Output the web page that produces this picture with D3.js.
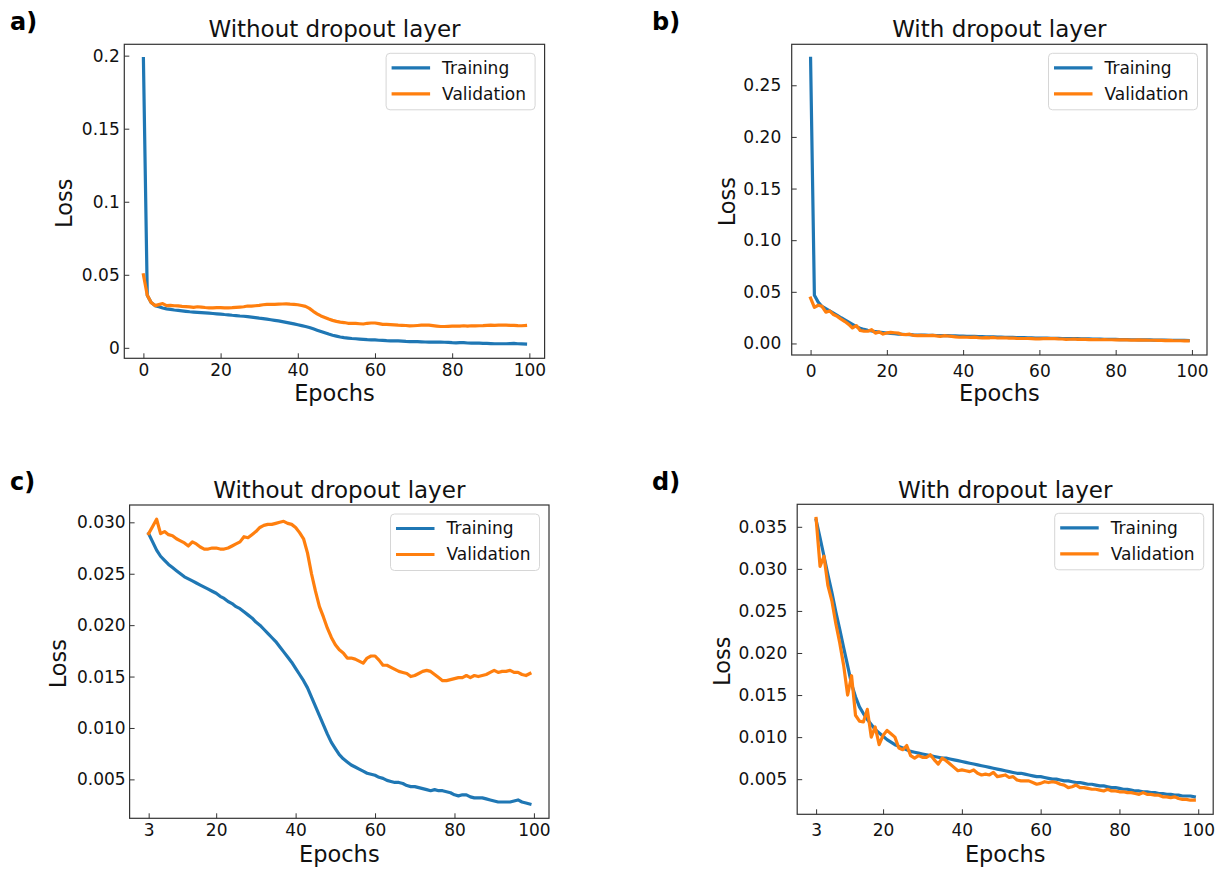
<!DOCTYPE html>
<html><head><meta charset="utf-8">
<script src="https://cdn.jsdelivr.net/npm/d3@7"></script>
<style>
body{margin:0;background:#fff;}
svg text{font-family:"DejaVu Sans",sans-serif;}
</style>
</head><body>
<svg id="chart" width="1220" height="870"></svg>
<script>
// ---------- data (epochs 0..99) ----------
const epochs = d3.range(0, 100);

const trainNoDropout = [0.198,0.036,0.031,
.0289,.0281,.0273,.0267,.0263,.0259,.0256,.0253,.0250,.0247,
.0245,.0243,.0241,.0239,.0237,.0235,.0233,.0231,.0228,.0226,
.0223,.0221,.0218,.0216,.0213,.0210,.0207,.0203,.0200,.0196,
.0192,.0188,.0184,.0179,.0174,.0169,.0164,.0158,.0152,.0146,
.0139,.0130,.0121,.0112,.0103,.0094,.0086,.0080,.0074,.0070,
.0067,.0064,.0062,.0060,.0058,.0056,.0055,.0054,.0052,.0051,
.0049,.0048,.0047,.0047,.0046,.0044,.0043,.0043,.0042,.0041,
.0040,.0039,.0040,.0039,.0039,.0038,.0037,.0035,.0034,.0035,
.0035,.0033,.0032,.0032,.0032,.0031,.0030,.0029,.0028,.0028,
.0028,.0028,.0029,.0030,.0028,.0027,.0026];

const valNoDropout = [0.050,0.036,0.031,
.0289,.0296,.0303,.0289,.0291,.0288,.0287,.0284,.0282,.0280,
.0277,.0281,.0279,.0276,.0274,.0274,.0275,.0275,.0274,.0274,
.0275,.0277,.0279,.0281,.0286,.0285,.0288,.0291,.0295,.0297,
.0298,.0298,.0299,.0300,.0301,.0299,.0298,.0295,.0290,.0284,
.0270,.0250,.0233,.0218,.0208,.0197,.0188,.0181,.0176,.0173,
.0168,.0168,.0167,.0165,.0163,.0168,.0170,.0170,.0166,.0161,
.0161,.0159,.0157,.0155,.0154,.0153,.0150,.0151,.0153,.0155,
.0156,.0155,.0152,.0149,.0146,.0146,.0147,.0148,.0149,.0149,
.0151,.0149,.0151,.0150,.0151,.0152,.0154,.0156,.0154,.0155,
.0155,.0156,.0154,.0154,.0152,.0151,.0153];

const trainDropout = [0.276,0.0466,0.040,
.0358,.0337,.0315,.0293,.0272,.0249,.0228,.0206,.0185,.0163,
.0148,.0136,.0128,.0121,.0115,.0109,.0105,.0101,.0097,.0094,
.0091,.0089,.0087,.0085,.0083,.0082,.0081,.0080,.0079,.0078,
.0077,.0076,.0075,.0075,.0074,.0073,.0072,.0071,.0070,.0069,
.0068,.0067,.0066,.0065,.0064,.0063,.0062,.0061,.0060,.0059,
.0058,.0057,.0057,.0056,.0055,.0054,.0053,.0053,.0052,.0051,
.0050,.0050,.0049,.0048,.0048,.0047,.0046,.0046,.0045,.0044,
.0044,.0043,.0042,.0042,.0041,.0040,.0040,.0039,.0038,.0038,
.0037,.0036,.0036,.0035,.0035,.0034,.0034,.0033,.0033,.0032,
.0032,.0031,.0031,.0030,.0030,.0030,.0029];

const valDropout = [0.044,0.035,0.037,
.0360,.0303,.0315,.0280,.0262,.0235,.0212,.0185,.0150,.0173,
.0126,.0119,.0118,.0133,.0100,.0112,.0091,.0102,.0108,.0104,
.0100,.0087,.0085,.0090,.0078,.0075,.0078,.0076,.0076,.0079,
.0073,.0068,.0075,.0072,.0068,.0064,.0060,.0061,.0060,.0059,
.0061,.0057,.0055,.0056,.0055,.0058,.0053,.0054,.0055,.0052,
.0053,.0049,.0048,.0048,.0048,.0046,.0044,.0045,.0047,.0046,
.0047,.0046,.0044,.0043,.0040,.0041,.0043,.0040,.0040,.0039,
.0038,.0038,.0037,.0036,.0038,.0036,.0036,.0035,.0035,.0034,
.0034,.0033,.0032,.0034,.0032,.0032,.0031,.0031,.0029,.0029,
.0028,.0029,.0027,.0026,.0026,.0025,.0025];

const seriesNames = ["Training", "Validation"];
const seriesColors = ["#1f77b4", "#ff7f0e"];

const xTicksFull = [0, 20, 40, 60, 80, 100];
const xTicksZoom = [3, 20, 40, 60, 80, 100];
const yTicksA = [0, 0.05, 0.1, 0.15, 0.2];
const yLabelsA = ["0", "0.05", "0.1", "0.15", "0.2"];
const yTicksB = [0, 0.05, 0.10, 0.15, 0.20, 0.25];
const yLabelsB = ["0.00", "0.05", "0.10", "0.15", "0.20", "0.25"];
const yTicksC = [0.005, 0.010, 0.015, 0.020, 0.025, 0.030];
const yLabelsC = ["0.005", "0.010", "0.015", "0.020", "0.025", "0.030"];
const yTicksD = [0.005, 0.010, 0.015, 0.020, 0.025, 0.030, 0.035];
const yLabelsD = ["0.005", "0.010", "0.015", "0.020", "0.025", "0.030", "0.035"];

// ---------- layout ----------
const panels = [
  {letter:"a)", lx:10, ly:30, title:"Without dropout layer", titleY:37, xlabY:401, lossX:64.3,
   f:{x0:124.3,x1:544.6,y0:44.3,y1:358.3}, start:0, train:trainNoDropout, val:valNoDropout,
   xTicks:xTicksFull, yTicks:yTicksA, yLabels:yLabelsA, xPad:6, yPad:4.6},
  {letter:"b)", lx:652, ly:30, title:"With dropout layer", titleY:37, xlabY:401, lossX:726.7,
   f:{x0:791.7,x1:1207,y0:44.3,y1:355}, start:0, train:trainDropout, val:valDropout,
   xTicks:xTicksFull, yTicks:yTicksB, yLabels:yLabelsB, xPad:9.5, yPad:10.5},
  {letter:"c)", lx:10, ly:490, title:"Without dropout layer", titleY:498, xlabY:861.5, lossX:57.9,
   f:{x0:129.6,x1:549,y0:505,y1:818.3}, start:3, train:trainNoDropout, val:valNoDropout,
   xTicks:xTicksZoom, yTicks:yTicksC, yLabels:yLabelsC, xPad:6, yPad:4},
  {letter:"d)", lx:652, ly:490, title:"With dropout layer", titleY:497.5, xlabY:861.5, lossX:722.6,
   f:{x0:797.2,x1:1213.2,y0:504.3,y1:814.3}, start:3, train:trainDropout, val:valDropout,
   xTicks:xTicksZoom, yTicks:yTicksD, yLabels:yLabelsD, xPad:9.5, yPad:10}
];

const svg = d3.select("#chart");
svg.append("rect").attr("width",1220).attr("height",870).attr("fill","#fff");

panels.forEach(p => {
  const f = p.f;
  const xs = epochs.slice(p.start);
  const tr = p.train.slice(p.start), va = p.val.slice(p.start);
  const xMin = d3.min(xs), xMax = d3.max(xs), xm = (xMax - xMin) * 0.05;
  const all = tr.concat(va);
  const yMin = d3.min(all), yMax = d3.max(all), ym = (yMax - yMin) * 0.05;
  const x = d3.scaleLinear().domain([xMin - xm, xMax + xm]).range([f.x0, f.x1]);
  const y = d3.scaleLinear().domain([yMin - ym, yMax + ym]).range([f.y1, f.y0]);

  const g = svg.append("g");

  const line = d3.line().x((d, i) => x(xs[i])).y(d => y(d));
  [tr, va].forEach((s, k) => {
    g.append("path").datum(s).attr("d", line)
      .attr("fill", "none").attr("stroke", seriesColors[k])
      .attr("stroke-width", 3.2).attr("stroke-linejoin", "round").attr("stroke-linecap", "square");
  });

  const gx = g.append("g").attr("transform", `translate(0,${f.y1})`)
    .call(d3.axisBottom(x).tickValues(p.xTicks).tickFormat(d3.format("d"))
      .tickSizeInner(-5).tickSizeOuter(0).tickPadding(p.xPad));
  gx.select(".domain").remove();
  gx.attr("font-size", 17).attr("font-family", "DejaVu Sans");
  gx.selectAll("line").attr("stroke", "#333").attr("stroke-width", 1);
  gx.selectAll("text").attr("fill", "#111");

  const gy = g.append("g").attr("transform", `translate(${f.x0},0)`)
    .call(d3.axisLeft(y).tickValues(p.yTicks).tickFormat((d, i) => p.yLabels[i])
      .tickSizeInner(-5).tickSizeOuter(0).tickPadding(p.yPad));
  gy.select(".domain").remove();
  gy.attr("font-size", 17).attr("font-family", "DejaVu Sans");
  gy.selectAll("line").attr("stroke", "#333").attr("stroke-width", 1);
  gy.selectAll("text").attr("fill", "#111");

  g.append("rect").attr("x", f.x0).attr("y", f.y0)
    .attr("width", f.x1 - f.x0).attr("height", f.y1 - f.y0)
    .attr("fill", "none").attr("stroke", "#333").attr("stroke-width", 1.2);

  g.append("text").attr("x", (f.x0 + f.x1) / 2).attr("y", p.titleY)
    .attr("text-anchor", "middle").attr("font-size", 23).attr("fill", "#111").text(p.title);
  g.append("text").attr("x", (f.x0 + f.x1) / 2).attr("y", p.xlabY)
    .attr("text-anchor", "middle").attr("font-size", 22.5).attr("fill", "#111").text("Epochs");
  g.append("text").attr("transform", `translate(${p.lossX},${(f.y0 + f.y1) / 2 + 2}) rotate(-90)`)
    .attr("text-anchor", "middle").attr("dy", "0.35em").attr("font-size", 22.5).attr("fill", "#111").text("Loss");
  g.append("text").attr("x", p.lx).attr("y", p.ly)
    .attr("font-size", 24).attr("font-weight", "bold").attr("fill", "#000").text(p.letter);

  const bw = 149, bh = 56.5;
  const bx = f.x1 - 9.5 - bw, by = f.y0 + 9;
  const lg = g.append("g");
  lg.append("rect").attr("x", bx).attr("y", by).attr("width", bw).attr("height", bh)
    .attr("rx", 4).attr("fill", "#fff").attr("fill-opacity", 0.8)
    .attr("stroke", "#d6d6d6").attr("stroke-width", 1);
  seriesNames.forEach((name, k) => {
    const ly = by + 14.5 + k * 26;
    lg.append("line").attr("x1", bx + 5.5).attr("x2", bx + 44).attr("y1", ly).attr("y2", ly)
      .attr("stroke", seriesColors[k]).attr("stroke-width", 3.2);
    lg.append("text").attr("x", bx + 56).attr("y", ly).attr("dy", "0.35em")
      .attr("font-size", 17).attr("fill", "#111").text(name);
  });
});
</script>
</body></html>
